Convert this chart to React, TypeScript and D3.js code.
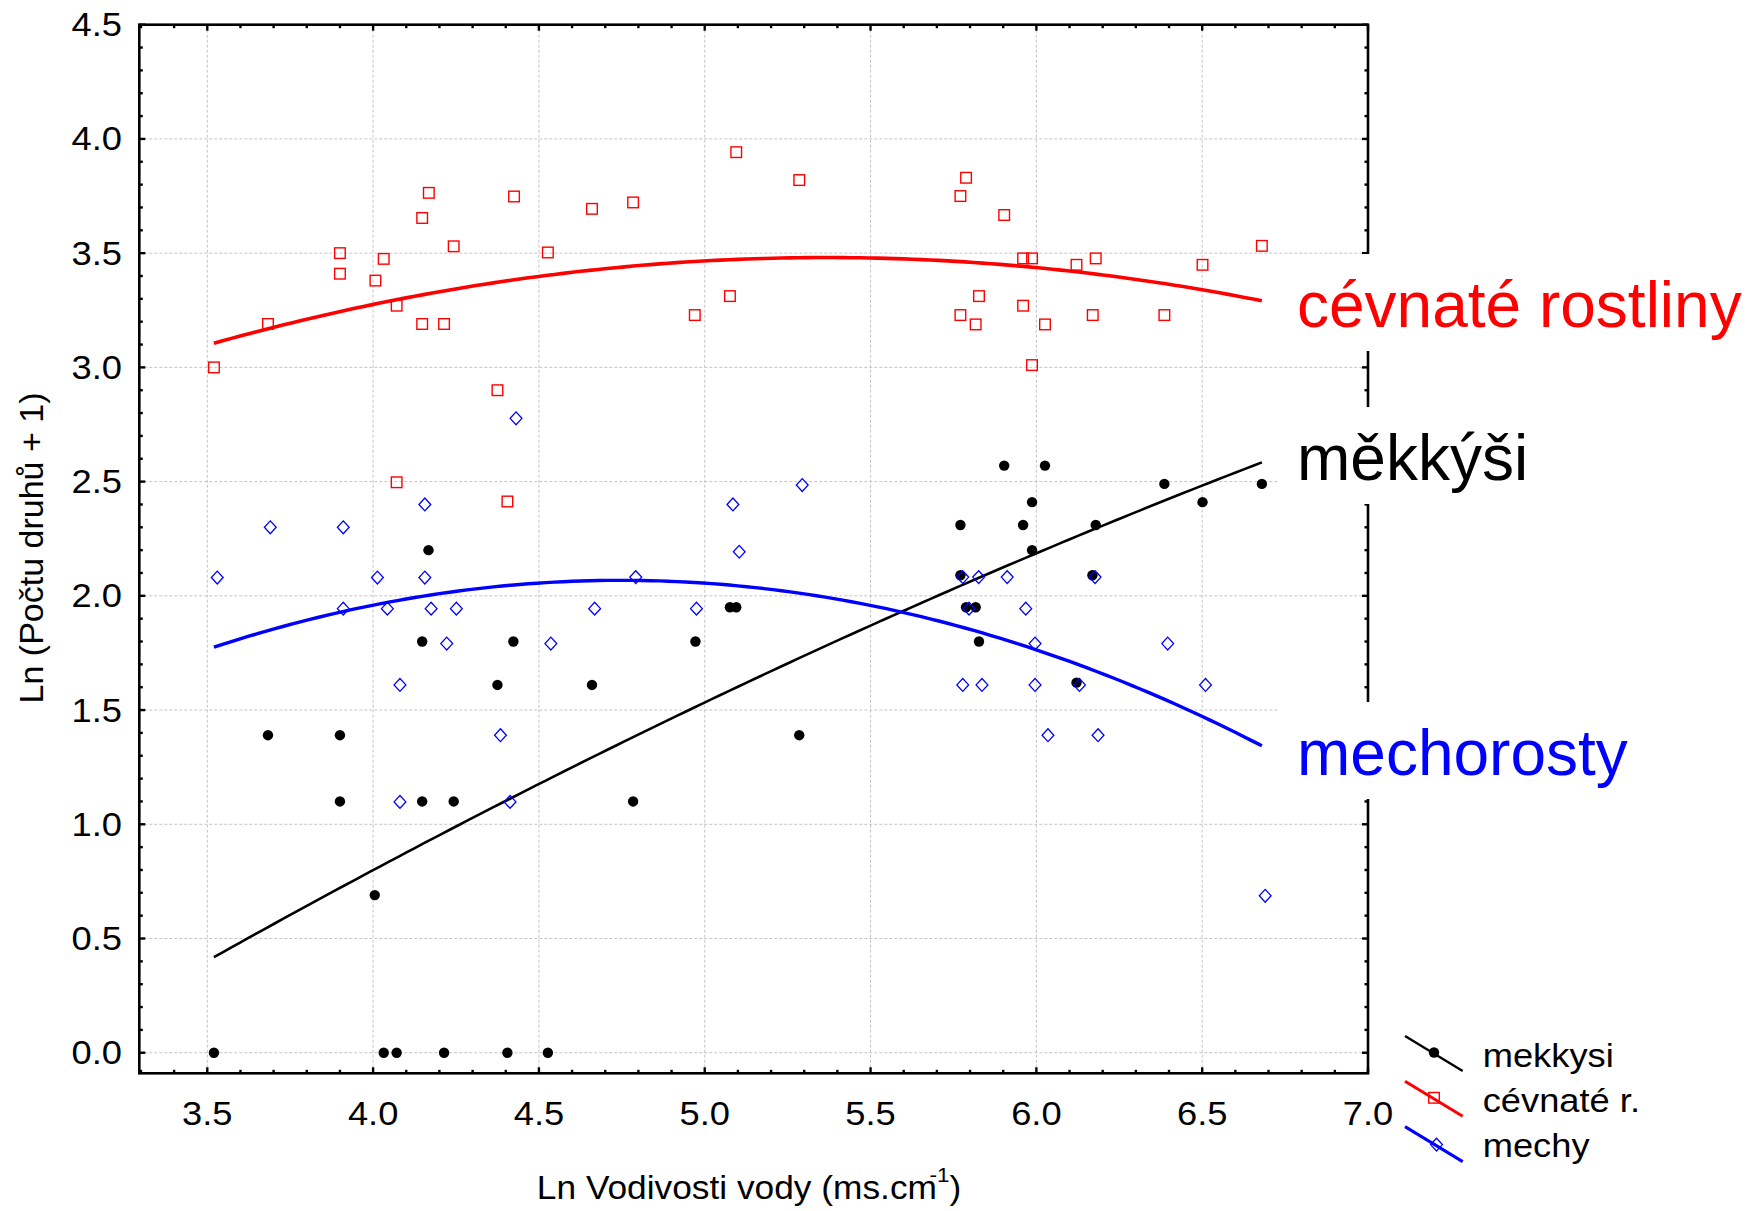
import * as d3 from 'd3'

// x ticks (Ln Vodivosti vody) and y ticks (Ln počtu druhů + 1)
const xTicks = [3.5, 4.0, 4.5, 5.0, 5.5, 6.0, 6.5, 7.0]
const yTicks = [0.0, 0.5, 1.0, 1.5, 2.0, 2.5, 3.0, 3.5, 4.0, 4.5]

// měkkýši (black dots)
const mekkysiX = [3.52, 4.032, 4.071, 4.214, 4.405, 4.527, 4.005, 3.90, 4.148, 4.243, 4.784, 3.683, 3.90, 5.285,
  4.375, 4.66, 6.121, 4.148, 4.423, 4.972, 5.827, 5.076, 5.095, 5.788, 5.817, 5.771, 6.169, 4.167, 5.987,
  5.771, 5.96, 6.179, 5.987, 6.501, 6.386, 6.68, 5.903, 6.026]
const mekkysiY = [0, 0, 0, 0, 0, 0, 0.69, 1.10, 1.10, 1.10, 1.10, 1.39, 1.39, 1.39,
  1.61, 1.61, 1.62, 1.80, 1.80, 1.80, 1.80, 1.95, 1.95, 1.95, 1.95, 2.09, 2.09, 2.20, 2.20,
  2.31, 2.31, 2.31, 2.41, 2.41, 2.49, 2.49, 2.57, 2.57]

// cévnaté rostliny (red squares)
const cevnateX = [3.52, 3.683, 3.90, 3.90, 4.007, 4.032, 4.071, 4.148, 4.168, 4.148, 4.214, 4.243, 4.071, 4.375,
  4.405, 4.425, 4.527, 4.66, 4.784, 4.97, 5.076, 5.095, 5.285, 5.771, 5.788, 5.771, 5.827, 5.817, 5.903, 5.96,
  5.987, 5.96, 5.987, 6.026, 6.121, 6.179, 6.17, 6.386, 6.501, 6.68]
const cevnateY = [3.00, 3.19, 3.50, 3.41, 3.38, 3.475, 3.27, 3.654, 3.764, 3.19, 3.19, 3.53, 2.497, 2.90,
  2.413, 3.748, 3.503, 3.694, 3.722, 3.229, 3.312, 3.942, 3.82, 3.75, 3.83, 3.229, 3.312, 3.188, 3.667, 3.477,
  3.477, 3.27, 3.01, 3.188, 3.449, 3.477, 3.229, 3.229, 3.449, 3.532]

// mechorosty (blue diamonds)
const mechyX = [3.53, 3.69, 3.91, 4.156, 4.013, 4.156, 3.91, 4.043, 4.175, 4.251, 4.222, 4.536, 4.668, 4.792,
  4.975, 4.081, 4.384, 4.081, 4.413, 4.431, 5.294, 5.085, 5.104, 5.778, 5.826, 5.912, 6.177, 5.797, 5.968,
  5.996, 6.396, 5.778, 5.836, 5.996, 6.13, 6.51, 6.035, 6.186, 6.69]
const mechyY = [2.08, 2.30, 2.30, 2.40, 2.08, 2.08, 1.944, 1.944, 1.944, 1.944, 1.791, 1.791, 1.944, 2.082,
  1.944, 1.61, 1.39, 1.098, 1.098, 2.777, 2.485, 2.40, 2.193, 2.082, 2.082, 2.082, 2.082, 1.944, 1.944,
  1.791, 1.791, 1.61, 1.61, 1.61, 1.61, 1.61, 1.39, 1.39, 0.687]

// fitted curves as drawn in the picture: y = c0 + c1*x + c2*x^2, over x 3.52 .. 6.68
const fitMekkysi = [-2.9436, 1.0972, -0.04037]
const fitCevnate = [0.315, 1.1797, -0.1099]
const fitMechy = [-2.308, 1.8432, -0.1941]
const fitRange = [3.52, 6.68]

const labelNames = ['cévnaté rostliny', 'měkkýši', 'mechorosty']
const legendNames = ['mekkysi', 'cévnaté r.', 'mechy']

const W = 1761
const H = 1211
const FONT = '"Liberation Sans", Arial, sans-serif'
const RED = '#ff0000'
const BLUE = '#0000ff'

const poly = (coef: number[]) => (x: number) => coef.reduce((acc, c, i) => acc + c * Math.pow(x, i), 0)

export default function App() {
  const x = d3.scaleLinear().domain([3.295, 7.0]).range([139.3, 1368])
  const y = d3.scaleLinear().domain([-0.09, 4.5]).range([1073.3, 24.7])
  const [x0, x1] = x.range()
  const [y0, y1] = y.range()

  const series = [
    { xs: mekkysiX, ys: mekkysiY, fit: fitMekkysi, color: '#000', width: 2.6 },
    { xs: cevnateX, ys: cevnateY, fit: fitCevnate, color: RED, width: 3.6 },
    { xs: mechyX, ys: mechyY, fit: fitMechy, color: BLUE, width: 3.4 },
  ]

  const line = d3.line<number>().x(d => x(d))
  const curves = series.map(s => {
    const f = poly(s.fit)
    const xs = d3.range(0, 121).map(i => fitRange[0] + (fitRange[1] - fitRange[0]) * i / 120)
    return line.y(d => y(f(d)))(xs) || ''
  })

  const minorX = d3.range(33, 71).map(v => v / 10)
  const minorY = d3.range(0, 46).map(v => v / 10)

  const marker = (k: number, cx: number, cy: number, key: string | number) => {
    if (k === 0) return <circle key={key} cx={cx} cy={cy} r={5.2} fill="#000" />
    if (k === 1) return <rect key={key} x={cx - 5.3} y={cy - 5.3} width={10.6} height={10.6} fill="none" stroke={RED} strokeWidth={1.4} />
    return <path key={key} d={`M${cx},${cy - 6.4}L${cx + 5.9},${cy}L${cx},${cy + 6.4}L${cx - 5.9},${cy}Z`} fill="none" stroke={BLUE} strokeWidth={1.3} />
  }

  const labelBase = [327, 480, 775]
  const labelColor = [RED, '#000', BLUE]

  return (
    <svg width={W} height={H} style={{ position: 'absolute', left: 0, top: 0, background: '#fff' }} fontFamily={FONT}>
      <rect width={W} height={H} fill="#fff" />
      {/* grid */}
      <g stroke="#c4c4c4" strokeWidth={1} strokeDasharray="3 2">
        {xTicks.filter(t => t < 7).map(t => <line key={'gx' + t} x1={x(t)} x2={x(t)} y1={y1} y2={y0} />)}
        {yTicks.filter(t => t < 4.5).map(t => <line key={'gy' + t} x1={x0} x2={x1} y1={y(t)} y2={y(t)} />)}
      </g>

      {/* fitted curves */}
      {curves.map((d, i) => <path key={'c' + i} d={d} fill="none" stroke={series[i].color} strokeWidth={series[i].width} />)}

      {/* points */}
      {series.map((s, k) => <g key={'s' + k}>{s.xs.map((xv, i) => marker(k, x(xv), y(s.ys[i]), i))}</g>)}

      {/* frame and ticks */}
      <g stroke="#000">
        <rect x={x0} y={y1} width={x1 - x0} height={y0 - y1} fill="none" strokeWidth={2.6} />
        {minorX.map(t => {
          const len = xTicks.includes(t) ? 6 : 3.5
          return <g key={'tx' + t} strokeWidth={2.4}>
            <line x1={x(t)} x2={x(t)} y1={y0} y2={y0 - len} />
            <line x1={x(t)} x2={x(t)} y1={y1} y2={y1 + len} />
          </g>
        })}
        {minorY.map(t => {
          const len = yTicks.includes(t) ? 6 : 3.5
          return <g key={'ty' + t} strokeWidth={2.4}>
            <line x1={x0} x2={x0 + len} y1={y(t)} y2={y(t)} />
            <line x1={x1} x2={x1 - len} y1={y(t)} y2={y(t)} />
          </g>
        })}
      </g>

      {/* tick labels */}
      <g fontSize={33} fill="#000">
        {xTicks.map(t => (
          <text key={'lx' + t} transform={`translate(${x(t)},1125) scale(1.1,1)`} textAnchor="middle">{d3.format('.1f')(t)}</text>
        ))}
        {yTicks.map(t => (
          <text key={'ly' + t} transform={`translate(122,${y(t) + 11.5}) scale(1.1,1)`} textAnchor="end">{d3.format('.1f')(t)}</text>
        ))}
      </g>

      {/* axis titles */}
      <text transform="translate(749,1199) scale(1.07,1)" textAnchor="middle" fontSize={33}>
        Ln Vodivosti vody (ms.cm<tspan fontSize={21} dx={-7} dy={-17}>-1</tspan><tspan fontSize={33} dy={17}>)</tspan>
      </text>
      <text transform="translate(42.5,548) rotate(-90)" textAnchor="middle" fontSize={34}>Ln (Počtu druhů + 1)</text>

      {/* series labels over the right edge */}
      {labelNames.map((name, i) => (
        <g key={'lab' + i}>
          <rect x={1277} y={labelBase[i] - 73} width={W - 1277} height={97} fill="#fff" />
          <text x={1297} y={labelBase[i]} fontSize={64} fill={labelColor[i]}>{name}</text>
        </g>
      ))}

      {/* legend */}
      {legendNames.map((name, i) => {
        const top = 1036 + i * 45.3
        return (
          <g key={'lg' + i}>
            <line x1={1405} y1={top} x2={1462.7} y2={top + 35} stroke={series[i].color} strokeWidth={i === 0 ? 2.4 : 3} />
            {marker(i, 1434 + (i === 2 ? 2.5 : 0), top + 16.5 + (i === 2 ? 1.5 : 0), 'm')}
            <text transform={`translate(1482.7,${1067.3 + i * 44.7}) scale(1.1,1)`} fontSize={33}>{name}</text>
          </g>
        )
      })}
    </svg>
  )
}
